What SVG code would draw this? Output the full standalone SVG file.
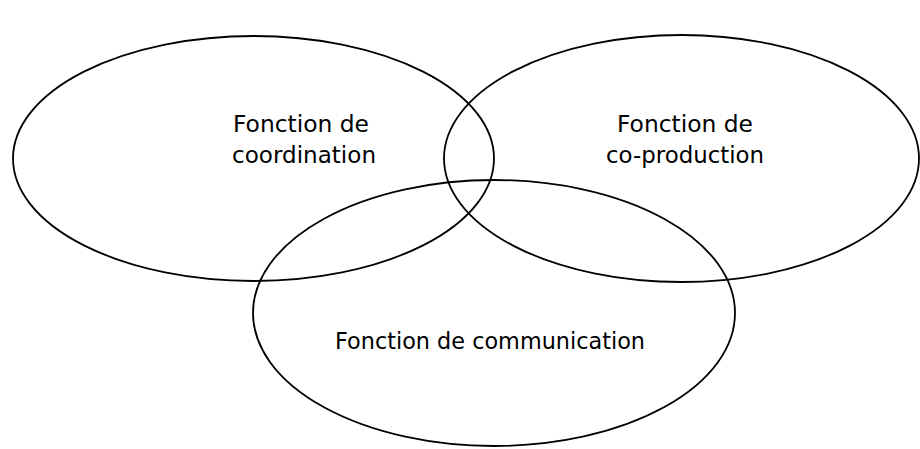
<svg xmlns="http://www.w3.org/2000/svg" width="920" height="449" viewBox="0 0 920 449">
<style>
.e{fill:none;stroke:#000;stroke-width:1.8}
.t{font-family:"DejaVu Sans",Verdana,sans-serif;font-size:23px;fill:#000;text-anchor:middle}
</style>
<rect width="920" height="449" fill="#fff"/>
<g id="connectors"></g>
<g id="coordination">
<ellipse class="e" cx="253.5" cy="158.5" rx="240.5" ry="122.5"/>
<text class="t" x="301" y="132" textLength="136" lengthAdjust="spacingAndGlyphs">Fonction de</text>
<text class="t" x="304" y="163" textLength="144" lengthAdjust="spacingAndGlyphs">coordination</text>
</g>
<g id="coproduction">
<ellipse class="e" cx="681.5" cy="158.5" rx="237.5" ry="123.5"/>
<text class="t" x="685" y="132" textLength="136" lengthAdjust="spacingAndGlyphs">Fonction de</text>
<text class="t" x="685" y="163" textLength="158" lengthAdjust="spacingAndGlyphs">co-production</text>
</g>
<g id="communication">
<ellipse class="e" cx="494" cy="313" rx="241" ry="133"/>
<text class="t" x="490" y="349" textLength="310" lengthAdjust="spacingAndGlyphs">Fonction de communication</text>
</g>
</svg>
